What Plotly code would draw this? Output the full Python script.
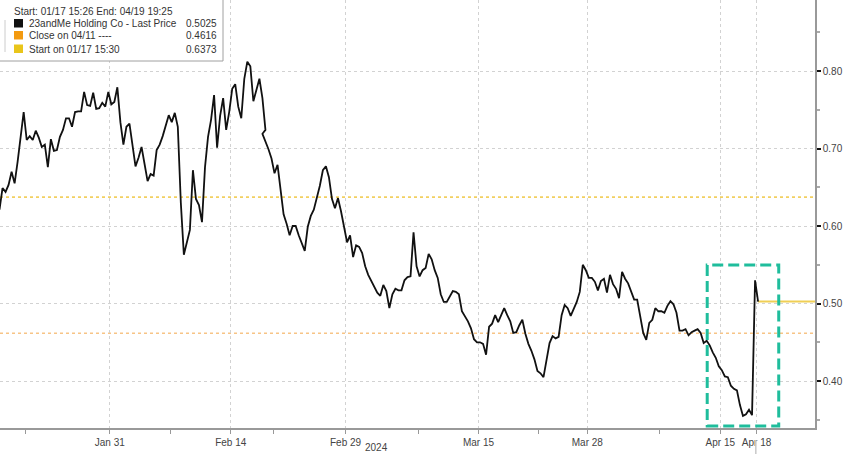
import pandas as pd
import plotly.graph_objects as go

# ---------------- data ----------------
holidays = ["2024-02-19", "2024-03-29"]
session_hours = [6, 10, 14, 18]          # sample times within each trading session
first_slot = 3                             # series starts on the last slot of 01/17

prices = [
    0.621, 0.649, 0.644, 0.653, 0.670, 0.655, 0.683, 0.714, 0.747, 0.711,
    0.716, 0.711, 0.723, 0.714, 0.702, 0.705, 0.676, 0.712, 0.697, 0.698,
    0.715, 0.724, 0.739, 0.739, 0.728, 0.747, 0.748, 0.748, 0.773, 0.756,
    0.755, 0.772, 0.751, 0.752, 0.759, 0.754, 0.773, 0.757, 0.760, 0.779,
    0.734, 0.705, 0.728, 0.732, 0.701, 0.677, 0.688, 0.702, 0.680, 0.658,
    0.667, 0.665, 0.698, 0.705, 0.716, 0.729, 0.743, 0.734, 0.746, 0.728,
    0.630, 0.563, 0.579, 0.595, 0.672, 0.635, 0.627, 0.605, 0.676, 0.715,
    0.737, 0.769, 0.701, 0.742, 0.765, 0.724, 0.747, 0.777, 0.783, 0.754,
    0.739, 0.790, 0.812, 0.806, 0.761, 0.777, 0.790, 0.765, 0.724, 0.719,
    0.710, 0.699, 0.687, 0.668, 0.679, 0.646, 0.615, 0.603, 0.588, 0.600,
    0.600, 0.588, 0.578, 0.568, 0.599, 0.613, 0.621, 0.636, 0.652, 0.672,
    0.677, 0.663, 0.635, 0.623, 0.636, 0.619, 0.598, 0.579, 0.588, 0.560,
    0.575, 0.573, 0.565, 0.548, 0.537, 0.529, 0.521, 0.514, 0.510, 0.524,
    0.516, 0.494, 0.512, 0.519, 0.517, 0.517, 0.530, 0.534, 0.535, 0.592,
    0.548, 0.535, 0.543, 0.546, 0.564, 0.557, 0.543, 0.533, 0.512, 0.502,
    0.502, 0.510, 0.516, 0.515, 0.512, 0.490, 0.484, 0.477, 0.468, 0.454,
    0.450, 0.450, 0.448, 0.434, 0.470, 0.474, 0.485, 0.476, 0.485, 0.494,
    0.485, 0.477, 0.462, 0.463, 0.472, 0.479, 0.461, 0.448, 0.439, 0.428,
    0.413, 0.410, 0.405, 0.430, 0.449, 0.458, 0.455, 0.457, 0.485, 0.498,
    0.494, 0.484, 0.494, 0.502, 0.515, 0.550, 0.543, 0.533, 0.533, 0.528,
    0.517, 0.529, 0.532, 0.514, 0.537, 0.525, 0.519, 0.507, 0.541, 0.532,
    0.526, 0.516, 0.505, 0.505, 0.485, 0.462, 0.453, 0.475, 0.479, 0.494,
    0.490, 0.490, 0.488, 0.497, 0.503, 0.499, 0.488, 0.465, 0.465, 0.467,
    0.459, 0.463, 0.465, 0.467, 0.462, 0.449, 0.452, 0.446, 0.437, 0.430,
    0.419, 0.414, 0.406, 0.405, 0.394, 0.390, 0.388, 0.369, 0.355, 0.357,
    0.363, 0.356, 0.530, 0.5025,
]

tick_dates = ["2024-01-31", "2024-02-14", "2024-02-29", "2024-03-15",
              "2024-03-28", "2024-04-15", "2024-04-18"]
tick_labels = ["Jan 31", "Feb 14", "Feb 29", "Mar 15", "Mar 28", "Apr 15", "Apr 18"]
minor_dates = ["2024-01-22", "2024-02-07", "2024-02-21", "2024-03-08",
               "2024-03-22", "2024-04-08"]
y_ticks = [0.40, 0.50, 0.60, 0.70, 0.80]
y_minor = [0.35, 0.45, 0.55, 0.65, 0.75, 0.85]

start_level = 0.6373
close_level = 0.4616
last_level = 0.5025

legend_header = "Start: 01/17 15:26 End: 04/19 19:25"
legend_rows = [
    ("23andMe Holding Co - Last Price", "0.5025", "#111111"),
    ("Close on 04/11 ----", "0.4616", "#f39a0f"),
    ("Start on 01/17 15:30", "0.6373", "#e9c51a"),
]

x_range = ["2024-01-17 18:40", "2024-04-24 17:20"]
box_x = ["2024-04-11 18:40", "2024-04-19 17:20"]
box_y = [0.342, 0.5497]

# ---------------- build ----------------
days = pd.bdate_range("2024-01-17", "2024-04-19", freq="C", holidays=holidays)
all_times = [d + pd.Timedelta(hours=h) for d in days for h in session_hours]
times = all_times[first_slot:first_slot + len(prices)]

FONT = "Liberation Sans, Arial, sans-serif"
W, H = 848, 454
ML, MR, MT, MB = 0, 33, 0, 26
PW, PH = W - ML - MR, H - MT - MB

def px(x):
    return x / PW

def py(y):
    return 1 - y / PH

fig = go.Figure()

fig.add_trace(go.Scatter(
    x=times, y=prices, mode="lines",
    line=dict(color="#111111", width=1.8),
    hoverinfo="x+y", showlegend=False,
))

shapes = []
# reference levels
shapes.append(dict(type="line", xref="paper", yref="y", x0=0, x1=1,
                   y0=start_level, y1=start_level,
                   line=dict(color="#f2d060", width=1.6, dash="dot"), layer="below"))
shapes.append(dict(type="line", xref="paper", yref="y", x0=0, x1=1,
                   y0=close_level, y1=close_level,
                   line=dict(color="#f7c486", width=1.6, dash="dot"), layer="below"))
shapes.append(dict(type="line", xref="x", yref="y", x0=times[-1], x1=x_range[1],
                   y0=last_level, y1=last_level,
                   line=dict(color="#f0cf55", width=2), layer="below"))
# highlight box
shapes.append(dict(type="rect", xref="x", yref="y",
                   x0=box_x[0], x1=box_x[1], y0=box_y[0], y1=box_y[1],
                   line=dict(color="#1fbd9c", width=3, dash="11px,5px"),
                   fillcolor="rgba(0,0,0,0)", layer="above"))
# small marker under Apr 18
shapes.append(dict(type="line", xref="x", yref="paper",
                   x0="2024-04-18 03:00", x1="2024-04-18 03:00",
                   y0=-12 / PH, y1=-26 / PH,
                   line=dict(color="#c8c8c8", width=1.5)))
# legend box
shapes.append(dict(type="rect", xref="paper", yref="paper",
                   x0=px(-3), x1=px(223), y0=py(61), y1=py(-3),
                   line=dict(color="#a0a0a0", width=1), fillcolor="white",
                   layer="above"))
shapes.append(dict(type="line", xref="paper", yref="paper",
                   x0=px(5), x1=px(5), y0=py(52), y1=py(20),
                   line=dict(color="#cccccc", width=1), layer="above"))

annotations = [dict(xref="paper", yref="paper", x=px(12), y=py(11.5),
                    text=legend_header, showarrow=False, xanchor="left",
                    yanchor="middle", font=dict(family=FONT, size=10, color="#333"))]
row_y = [23.5, 35.5, 49]
sq_top = [19, 31, 44.5]
for (label, val, col), yy, st in zip(legend_rows, row_y, sq_top):
    shapes.append(dict(type="rect", xref="paper", yref="paper",
                       x0=px(14), x1=px(23), y0=py(st + 8.5), y1=py(st),
                       line=dict(width=0), fillcolor=col, layer="above"))
    annotations.append(dict(xref="paper", yref="paper", x=px(27), y=py(yy),
                            text=label, showarrow=False, xanchor="left",
                            yanchor="middle",
                            font=dict(family=FONT, size=10, color="#333")))
    annotations.append(dict(xref="paper", yref="paper", x=px(219), y=py(yy),
                            text=val, showarrow=False, xanchor="right",
                            yanchor="middle",
                            font=dict(family=FONT, size=10, color="#333")))

annotations.append(dict(xref="paper", yref="paper", x=px(376), y=-19 / PH,
                        text="2024", showarrow=False, xanchor="center",
                        yanchor="middle",
                        font=dict(family=FONT, size=10, color="#444")))

fig.update_layout(
    width=W, height=H,
    margin=dict(l=ML, r=MR, t=MT, b=MB, pad=0),
    paper_bgcolor="white", plot_bgcolor="white",
    showlegend=False,
    shapes=shapes, annotations=annotations,
    font=dict(family=FONT, size=10, color="#444"),
    xaxis=dict(
        type="date",
        range=x_range,
        rangebreaks=[
            dict(bounds=["sat", "mon"]),
            dict(values=holidays),
            dict(bounds=[20, 4], pattern="hour"),
        ],
        tickmode="array",
        tickvals=[d + " 04:00" for d in tick_dates],
        ticktext=tick_labels,
        ticks="outside", ticklen=4, tickcolor="#999", tickwidth=1,
        tickfont=dict(family=FONT, size=10, color="#444"),
        showline=True, linecolor="#999", linewidth=1.5,
        showgrid=True, gridcolor="#d2d2d2", griddash="dot", gridwidth=1,
        zeroline=False, automargin=False,
        minor=dict(tickmode="array", tickvals=[d + " 04:00" for d in minor_dates],
                   ticks="outside", ticklen=4, tickcolor="#999", showgrid=False),
    ),
    yaxis=dict(
        range=[0.3394, 0.8916],
        side="right",
        tickmode="array", tickvals=y_ticks,
        ticktext=[f"{v:.2f}" for v in y_ticks],
        ticks="outside", ticklen=4, tickwidth=2, tickcolor="#111",
        tickfont=dict(family=FONT, size=10, color="#444"),
        showline=True, linecolor="#999", linewidth=1.5,
        showgrid=True, gridcolor="#d2d2d2", griddash="dot", gridwidth=1,
        zeroline=False, automargin=False,
        minor=dict(tickmode="array", tickvals=y_minor, ticks="outside",
                   ticklen=3, tickcolor="#aaa", showgrid=False),
    ),
)

fig.write_html(
    "out.html",
    config={"displayModeBar": False},
    post_script="document.body.style.margin='0';document.body.style.overflow='hidden';",
)
